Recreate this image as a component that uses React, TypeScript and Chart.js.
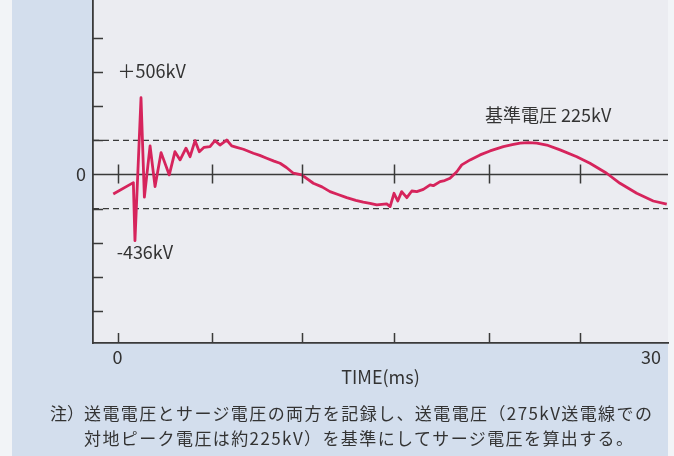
import React, { useEffect, useRef } from "react";
import { Chart, registerables } from "chart.js";

Chart.register(...registerables);

// ---- data ----
const TIME_MS = [
  -0.24, 0.89, 0.98, 1.32, 1.51, 1.83, 2.11, 2.45, 2.91, 3.23, 3.52, 3.85, 4.08, 4.36, 4.6, 4.87,
  5.2, 5.48, 5.76, 6.14, 6.42, 6.7, 7.08, 7.64, 8.0, 8.39, 8.8, 9.14, 9.5, 9.89, 10.36, 11.01,
  11.5, 11.95, 12.4, 12.89, 13.4, 13.82, 14.2, 14.58, 15.14, 15.33, 15.55, 15.76, 15.98, 16.27,
  16.55, 16.83, 17.2, 17.58, 17.76, 18.14, 18.4, 18.7, 19.08, 19.36, 19.83, 20.39, 20.95, 21.7,
  22.2, 22.64, 23.1, 23.58, 24.14, 24.89, 25.83, 26.57, 27.51, 28.26, 29.2, 30.13, 30.89,
];
const SURGE_KV = [
  -129, -54, -436, 506, -150, 188, -80, 144, -3, 150, 96, 173, 117, 223, 150, 179,
  184, 223, 194, 227, 188, 179, 166, 140, 126, 107, 88, 74, 46, 8, -3, -58,
  -82, -113, -132, -153, -171, -183, -190, -201, -194, -212, -124, -175, -113, -153,
  -109, -113, -98, -69, -74, -47, -40, -25, 18, 63, 96, 129, 155, 183,
  196, 206, 210, 206, 194, 162, 117, 74, 8, -58, -124, -175, -196,
];
const REFERENCE_KV = 225;
const X_LABEL_TICKS = [0, 30];
const X_TICK_MARKS = [0, 5.3, 10.36, 15.57, 20.9, 26.0];
const Y_LABEL_TICKS = [0];
const Y_TICK_MARKS = [-900, -675, -450, -225, 225, 450, 675, 900];
const X_RANGE = [-1.38, 30.96];
const Y_RANGE = [-1111, 1150];
const ANNOTATIONS = [
  { text: "＋506kV", x: 0.0, y: 682 },
  { text: "-436kV", x: -0.05, y: -511 },
  { text: "基準電圧 225kV", x: 20.67, y: 392 },
];
const AXIS_TITLE = "TIME(ms)";
const NOTE_HEAD = "注）";
const NOTE_LINES = [
  "送電電圧とサージ電圧の両方を記録し、送電電圧（275kV送電線での",
  "対地ピーク電圧は約225kV）を基準にしてサージ電圧を算出する。",
];

const FONT_FAMILY = '"Noto Sans CJK JP", "Noto Sans", sans-serif';
const TEXT_COLOR = "#333333";
const AXIS_COLOR = "#3a3a3a";
const CURVE_COLOR = "#d6245c";

const backgroundPlugin = {
  id: "bgPlugin",
  beforeDraw(chart: any) {
    const { ctx, width, height, chartArea } = chart;
    ctx.save();
    ctx.fillStyle = "#d3deed";
    ctx.fillRect(0, 0, width, height);
    ctx.fillStyle = "#f2f4f7";
    ctx.fillRect(0, 0, 12, height);
    ctx.fillRect(chartArea.right, 0, width - chartArea.right, height);
    ctx.fillStyle = "#ebecf1";
    ctx.fillRect(chartArea.left, chartArea.top, chartArea.right - chartArea.left, chartArea.bottom - chartArea.top);
    ctx.restore();
  },
};

const tickMarkPlugin = {
  id: "tickMarks",
  afterDatasetsDraw(chart: any) {
    const { ctx, chartArea, scales } = chart;
    const xs = scales.x;
    const ys = scales.y;
    ctx.save();
    ctx.strokeStyle = AXIS_COLOR;
    ctx.lineWidth = 1.5;
    ctx.beginPath();
    for (const v of Y_TICK_MARKS) {
      const y = Math.round(ys.getPixelForValue(v)) + 0.5;
      ctx.moveTo(chartArea.left, y);
      ctx.lineTo(chartArea.left + 10, y);
    }
    const y0 = ys.getPixelForValue(0);
    for (const v of X_TICK_MARKS) {
      const x = Math.round(xs.getPixelForValue(v)) + 0.5;
      ctx.moveTo(x, chartArea.bottom);
      ctx.lineTo(x, chartArea.bottom - 10);
      ctx.moveTo(x, y0 - 10);
      ctx.lineTo(x, y0 + 9);
    }
    ctx.stroke();
    ctx.restore();
  },
};

const annotationPlugin = {
  id: "annotations",
  afterDraw(chart: any) {
    const { ctx, scales } = chart;
    ctx.save();
    ctx.fillStyle = TEXT_COLOR;
    ctx.font = `18px ${FONT_FAMILY}`;
    ctx.textAlign = "left";
    ctx.textBaseline = "middle";
    for (const a of ANNOTATIONS) {
      ctx.fillText(a.text, scales.x.getPixelForValue(a.x), scales.y.getPixelForValue(a.y));
    }
    ctx.restore();
  },
};

export default function App() {
  const canvasRef = useRef<HTMLCanvasElement | null>(null);

  useEffect(() => {
    if (!canvasRef.current) return;
    const font = { family: FONT_FAMILY, size: 18 };
    const line = (y: number) => [
      { x: X_RANGE[0], y },
      { x: X_RANGE[1], y },
    ];
    const chart = new Chart(canvasRef.current, {
      type: "line",
      data: {
        datasets: [
          {
            data: TIME_MS.map((t, i) => ({ x: t, y: SURGE_KV[i] })),
            borderColor: CURVE_COLOR,
            borderWidth: 2.8,
            pointRadius: 0,
            tension: 0,
            borderJoinStyle: "round",
          },
          {
            data: line(REFERENCE_KV),
            borderColor: AXIS_COLOR,
            borderWidth: 1.4,
            borderDash: [6, 4],
            pointRadius: 0,
          },
          {
            data: line(-REFERENCE_KV),
            borderColor: AXIS_COLOR,
            borderWidth: 1.4,
            borderDash: [6, 4],
            pointRadius: 0,
          },
          {
            data: line(0),
            borderColor: AXIS_COLOR,
            borderWidth: 1.6,
            pointRadius: 0,
          },
        ],
      },
      options: {
        animation: false,
        responsive: false,
        maintainAspectRatio: false,
        devicePixelRatio: 1,
        layout: { padding: { left: 0, right: 6, top: 0, bottom: 0 } },
        plugins: { legend: { display: false }, tooltip: { enabled: false } },
        scales: {
          x: {
            type: "linear",
            min: X_RANGE[0],
            max: X_RANGE[1],
            grid: { display: false, drawTicks: false },
            border: { display: true, color: AXIS_COLOR, width: 1.8 },
            afterBuildTicks: (s: any) => {
              s.ticks = X_LABEL_TICKS.map((v) => ({ value: v }));
            },
            ticks: {
              autoSkip: false,
              maxRotation: 0,
              padding: 3,
              color: TEXT_COLOR,
              font,
              callback: (v: any) => String(v),
            },
            title: {
              display: true,
              text: AXIS_TITLE,
              color: TEXT_COLOR,
              font,
              padding: { top: 0, bottom: 68 },
            },
            afterFit: (s: any) => {
              s.height = 113;
              s.paddingLeft = 0;
              s.paddingRight = 0;
            },
          },
          y: {
            type: "linear",
            min: Y_RANGE[0],
            max: Y_RANGE[1],
            grid: { display: false, drawTicks: false },
            border: { display: true, color: AXIS_COLOR, width: 1.8 },
            afterBuildTicks: (s: any) => {
              s.ticks = Y_LABEL_TICKS.map((v) => ({ value: v }));
            },
            ticks: {
              padding: 7,
              color: TEXT_COLOR,
              font,
              callback: (v: any) => String(v),
            },
            afterFit: (s: any) => {
              s.width = 93;
              s.paddingTop = 0;
              s.paddingBottom = 0;
            },
          },
        },
      },
      plugins: [backgroundPlugin, tickMarkPlugin, annotationPlugin],
    } as any);
    return () => chart.destroy();
  }, []);

  return (
    <div style={{ position: "absolute", left: 0, top: 0, width: 674, height: 456, overflow: "hidden" }}>
      <canvas ref={canvasRef} width={674} height={456} style={{ display: "block" }} />
      <div
        style={{
          position: "absolute",
          left: 50,
          top: 400,
          display: "flex",
          fontFamily: FONT_FAMILY,
          fontSize: 17,
          letterSpacing: "1.4px",
          lineHeight: "25px",
          color: TEXT_COLOR,
          whiteSpace: "nowrap",
        }}
      >
        <div style={{ width: 34, letterSpacing: 0 }}>{NOTE_HEAD}</div>
        <div>
          {NOTE_LINES.map((l, i) => (
            <div key={i}>{l}</div>
          ))}
        </div>
      </div>
    </div>
  );
}
